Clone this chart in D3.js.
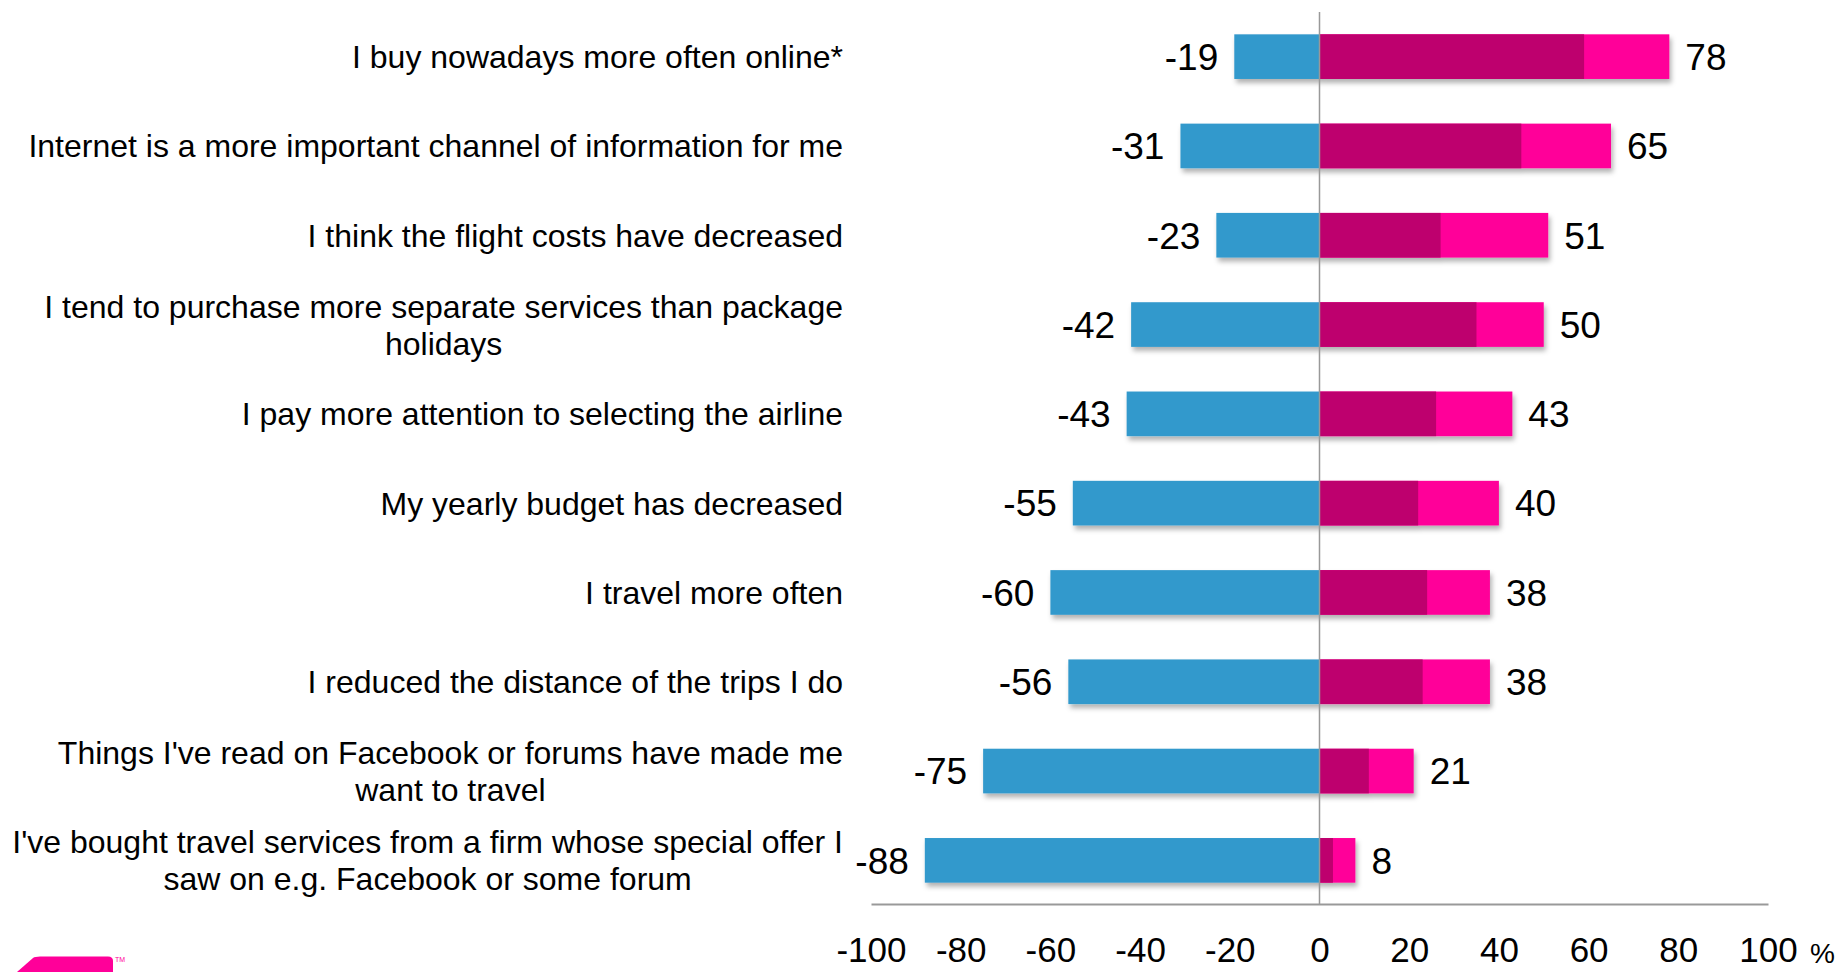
<!DOCTYPE html>
<html>
<head>
<meta charset="utf-8">
<script src="https://cdn.jsdelivr.net/npm/d3@7"></script>
<style>
  html, body { margin: 0; padding: 0; background: #fff; overflow: hidden; }
  svg { display: block; font-family: "Liberation Sans", Arial, sans-serif; }
</style>
</head>
<body>
<svg id="chart" width="1846" height="972"></svg>
<script>
// Statements, top to bottom
const categories = [
    ["I buy nowadays more often online*"],
    ["Internet is a more important channel of information for me"],
    ["I think the flight costs have decreased"],
    ["I tend to purchase more separate services than package", "holidays"],
    ["I pay more attention to selecting the airline"],
    ["My yearly budget has decreased"],
    ["I travel more often"],
    ["I reduced the distance of the trips I do"],
    ["Things I've read on Facebook or forums have made me", "want to travel"],
    ["I've bought travel services from a firm whose special offer I", "saw on e.g. Facebook or some forum"]
];
// Disagree share (negative side)
const disagree = [-19, -31, -23, -42, -43, -55, -60, -56, -75, -88];
// Agree total, and the "strongly agree" part of it
const agreeTotal = [78, 65, 51, 50, 43, 40, 38, 38, 21, 8];
const agreeStrong = [59, 45, 27, 35, 26, 22, 24, 23, 11, 3];
const xTicks = [-100, -80, -60, -40, -20, 0, 20, 40, 60, 80, 100];

const colors = { neg: "#3399cc", strong: "#be006e", agree: "#ff0099" };

const svg = d3.select("#chart");

// soft shadow under the bars
const defs = svg.append("defs");
defs.append("filter")
    .attr("id", "shadow")
    .attr("x", "-5%").attr("y", "-20%")
    .attr("width", "115%").attr("height", "160%")
    .append("feDropShadow")
    .attr("dx", 2).attr("dy", 4)
    .attr("stdDeviation", 2.5)
    .attr("flood-color", "#000")
    .attr("flood-opacity", 0.3);

const x = d3.scaleLinear().domain([-100, 100]).range([871, 1768]);
const y = d3.scaleBand()
    .domain(d3.range(categories.length))
    .range([12, 905])
    .paddingInner(0.5)
    .paddingOuter(0.25);

const rows = d3.range(categories.length);

// bars
const bars = svg.append("g").attr("filter", "url(#shadow)");

bars.selectAll("rect.neg")
    .data(rows)
    .join("rect")
    .attr("class", "neg")
    .attr("x", i => x(disagree[i]))
    .attr("y", i => y(i))
    .attr("width", i => x(0) - x(disagree[i]))
    .attr("height", y.bandwidth())
    .attr("fill", colors.neg);

bars.selectAll("rect.agree")
    .data(rows)
    .join("rect")
    .attr("class", "agree")
    .attr("x", x(0))
    .attr("y", i => y(i))
    .attr("width", i => x(agreeTotal[i]) - x(0))
    .attr("height", y.bandwidth())
    .attr("fill", colors.agree);

bars.selectAll("rect.strong")
    .data(rows)
    .join("rect")
    .attr("class", "strong")
    .attr("x", x(0))
    .attr("y", i => y(i))
    .attr("width", i => x(agreeStrong[i]) - x(0))
    .attr("height", y.bandwidth())
    .attr("fill", colors.strong);

// zero line
svg.append("line")
    .attr("x1", x(0)).attr("x2", x(0))
    .attr("y1", 12).attr("y2", 904)
    .attr("stroke", "#999")
    .attr("stroke-width", 1.5);

// x axis (plain hyphen for negatives, like the original)
const axis = svg.append("g")
    .attr("transform", "translate(0,904)")
    .call(d3.axisBottom(x).tickValues(xTicks).tickSize(0).tickFormat(d => String(d)));
axis.select(".domain").attr("stroke", "#999").attr("stroke-width", 2);
axis.selectAll("text")
    .attr("y", 58)
    .attr("dy", 0)
    .attr("fill", "#000")
    .style("font-family", "'Liberation Sans', Arial, sans-serif")
    .style("font-size", "35px");

svg.append("text")
    .attr("x", 1810)
    .attr("y", 963)
    .attr("font-size", "28px")
    .attr("fill", "#000")
    .text("%");

// value labels
svg.append("g").selectAll("text")
    .data(rows)
    .join("text")
    .attr("x", i => x(disagree[i]) - 16)
    .attr("y", i => y(i) + y.bandwidth() / 2)
    .attr("dy", "0.36em")
    .attr("text-anchor", "end")
    .attr("font-size", "37px")
    .attr("fill", "#000")
    .text(i => disagree[i]);

svg.append("g").selectAll("text")
    .data(rows)
    .join("text")
    .attr("x", i => x(agreeTotal[i]) + 16)
    .attr("y", i => y(i) + y.bandwidth() / 2)
    .attr("dy", "0.36em")
    .attr("font-size", "37px")
    .attr("fill", "#000")
    .text(i => agreeTotal[i]);

// category labels: block right-aligned, lines centred inside the block
const labelRight = 843;
const lineH = 37;
rows.forEach(i => {
    const lines = categories[i];
    const g = svg.append("g");
    const texts = g.selectAll("text")
        .data(lines)
        .join("text")
        .attr("font-size", "32px")
        .attr("fill", "#000")
        .attr("text-anchor", "middle")
        .attr("dy", "0.36em")
        .text(d => d);
    const maxW = d3.max(texts.nodes(), n => n.getComputedTextLength());
    const cy = y(i) + y.bandwidth() / 2;
    texts
        .attr("x", labelRight - maxW / 2)
        .attr("y", (d, k) => cy + (k - (lines.length - 1) / 2) * lineH);
});

// logo fragment at bottom left
svg.append("path")
    .attr("d", "M17,972 L33,958 Q35,956.5 40,956.5 L108,956.5 Q113,956.5 113,961 L113,972 Z")
    .attr("fill", colors.agree);
svg.append("text")
    .attr("x", 115).attr("y", 962)
    .attr("font-size", "7px")
    .attr("fill", colors.agree)
    .text("TM");
</script>
</body>
</html>
